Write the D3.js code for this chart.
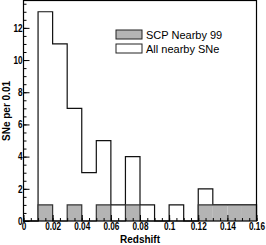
<!DOCTYPE html>
<html>
<head>
<meta charset="utf-8">
<script src="https://cdn.jsdelivr.net/npm/d3@7"></script>
<style>
  body { margin: 0; background: #fff; }
  svg { display: block; }
</style>
</head>
<body>
<div id="chart"></div>
<script>
// bin lower edges, width 0.01
const binEdges = [0, 0.01, 0.02, 0.03, 0.04, 0.05, 0.06, 0.07, 0.08, 0.09, 0.10, 0.11, 0.12, 0.13, 0.14, 0.15];
const allNearby = [0, 13, 11, 7, 3, 5, 1, 4, 1, 0, 1, 0, 2, 1, 1, 1];
const scpNearby = [0, 1, 0, 1, 0, 1, 0, 1, 0, 0, 0, 0, 1, 1, 1, 1];
const xTicks = [0, 0.02, 0.04, 0.06, 0.08, 0.1, 0.12, 0.14, 0.16];
const yTicks = [0, 2, 4, 6, 8, 10, 12];
const legendLabels = ["SCP Nearby 99", "All nearby SNe"];

const width = 266, height = 245;
const margin = {left: 23.5, right: 9.5, top: 0.5, bottom: 24};
const binWidth = 0.01;

const svg = d3.select("#chart").append("svg")
  .attr("width", width)
  .attr("height", height);

const x = d3.scaleLinear().domain([0, 0.16]).range([margin.left, width - margin.right]);
const y = d3.scaleLinear().domain([0, 13.7]).range([height - margin.bottom, margin.top]);

// step path for a histogram
function histPath(values) {
  let pts = [[x(binEdges[0]), y(0)]];
  values.forEach((v, i) => {
    pts.push([x(binEdges[i]), y(v)]);
    pts.push([x(binEdges[i] + binWidth), y(v)]);
  });
  pts.push([x(binEdges[binEdges.length - 1] + binWidth), y(0)]);
  return d3.line()(pts);
}

// All nearby SNe (open)
svg.append("path")
  .attr("d", histPath(allNearby))
  .attr("fill", "#fff")
  .attr("stroke", "#111")
  .attr("stroke-width", 1.2);

// SCP Nearby 99 (filled gray) as boxes
svg.selectAll("rect.scp")
  .data(scpNearby.map((v, i) => ({x0: binEdges[i], v: v})).filter(d => d.v > 0))
  .enter().append("rect")
    .attr("class", "scp")
    .attr("x", d => x(d.x0))
    .attr("width", d => x(d.x0 + binWidth) - x(d.x0))
    .attr("y", d => y(d.v))
    .attr("height", d => y(0) - y(d.v))
    .attr("fill", "#b4b4b4")
    .attr("stroke", "none");

svg.append("path")
  .attr("d", histPath(scpNearby))
  .attr("fill", "none")
  .attr("stroke", "#333")
  .attr("stroke-width", 1.2);

// frame
svg.append("rect")
  .attr("x", margin.left)
  .attr("y", margin.top)
  .attr("width", width - margin.right - margin.left)
  .attr("height", height - margin.bottom - margin.top)
  .attr("fill", "none")
  .attr("stroke", "#000")
  .attr("stroke-width", 1.2);

// minor ticks
const xMinor = d3.range(0, 0.1601, 0.005);
const yMinor = d3.range(0, 13.71, 0.5);

svg.append("g")
  .attr("transform", `translate(0,${y(0)})`)
  .call(d3.axisBottom(x).tickValues(xMinor).tickSize(-3).tickFormat(""))
  .call(g => g.select(".domain").remove());

svg.append("g")
  .attr("transform", `translate(${x(0)},0)`)
  .call(d3.axisLeft(y).tickValues(yMinor).tickSize(-3).tickFormat(""))
  .call(g => g.select(".domain").remove());

// major axes
const xAxis = svg.append("g")
  .attr("transform", `translate(0,${y(0)})`)
  .call(d3.axisBottom(x).tickValues(xTicks).tickSize(-6).tickPadding(2)
    .tickFormat(d => d === 0 ? "0" : d3.format("")(+d.toFixed(2))));
xAxis.select(".domain").remove();

const yAxis = svg.append("g")
  .attr("transform", `translate(${x(0)},0)`)
  .call(d3.axisLeft(y).tickValues(yTicks).tickSize(-6).tickPadding(1));
yAxis.select(".domain").remove();

svg.selectAll(".tick line").attr("stroke", "#000");
svg.selectAll(".tick text")
  .attr("font-family", "Liberation Sans, Arial, sans-serif")
  .attr("font-weight", "bold")
  .attr("font-size", 10)
  .attr("fill", "#000");
xAxis.selectAll(".tick text").attr("dy", "0.71em").attr("textLength", function() {
  return this.getComputedTextLength() * 0.82;
}).attr("lengthAdjust", "spacingAndGlyphs");
yAxis.selectAll(".tick text").attr("textLength", function() {
  return this.getComputedTextLength() * 0.82;
}).attr("lengthAdjust", "spacingAndGlyphs");

// axis titles
svg.append("text")
  .attr("x", x(0.08))
  .attr("y", 243)
  .attr("text-anchor", "middle")
  .attr("font-family", "Liberation Sans, Arial, sans-serif")
  .attr("font-weight", "bold")
  .attr("font-size", 10)
  .text("Redshift");

svg.append("text")
  .attr("transform", "translate(10,111) rotate(-90)")
  .attr("text-anchor", "middle")
  .attr("font-family", "Liberation Sans, Arial, sans-serif")
  .attr("font-weight", "bold")
  .attr("font-size", 10)
  .text("SNe per 0.01");

// legend
const legend = svg.append("g").attr("transform", "translate(116,30)");
const legendFills = ["#b4b4b4", "#fff"];
legendLabels.forEach((lab, i) => {
  legend.append("rect")
    .attr("x", 0)
    .attr("y", i * 14)
    .attr("width", 26)
    .attr("height", 9)
    .attr("fill", legendFills[i])
    .attr("stroke", "#222")
    .attr("stroke-width", 1);
  legend.append("text")
    .attr("x", 30)
    .attr("y", i * 14 + 8.5)
    .attr("font-family", "Liberation Sans, Arial, sans-serif")
    .attr("font-size", 11)
    .text(lab);
});
</script>
</body>
</html>
